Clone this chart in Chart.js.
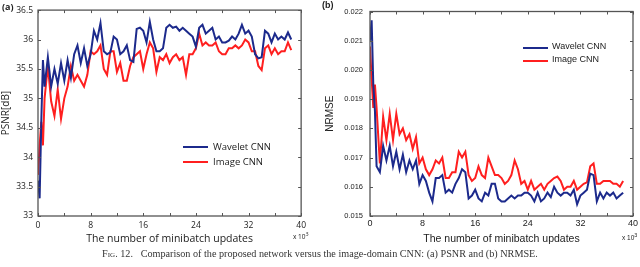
<!DOCTYPE html>
<html>
<head>
<meta charset="utf-8">
<script src="https://cdn.jsdelivr.net/npm/chart.js@4.4.1/dist/chart.umd.min.js"></script>
<style>
    body { margin: 0; background: #fff; }
    #wrap { position: relative; width: 640px; height: 267px; overflow: hidden; }
    canvas { position: absolute; top: 0; }
    .txt { position: absolute; white-space: nowrap; color: #222; }
    .leg { position: absolute; height: 2px; width: 25px; }
</style>
</head>
<body>
<div id="wrap">
    <canvas id="psnrChart" width="310" height="250" style="left:0"></canvas>
    <canvas id="nrmseChart" width="320" height="250" style="left:320px"></canvas>

    <div class="txt" style="left:2px;top:0px;font:bold 9px 'Open Sans';">(a)</div>
    <div class="txt" style="left:322px;top:0px;font:bold 9px 'Liberation Sans';">(b)</div>

    <div class="leg" style="left:183px;top:146px;background:#1c2a8c"></div>
    <div class="txt" style="left:213px;top:140px;font:9.5px 'Open Sans';">Wavelet CNN</div>
    <div class="leg" style="left:183px;top:161px;background:#ff1f1f"></div>
    <div class="txt" style="left:213px;top:155px;font:9.5px 'Open Sans';">Image CNN</div>

    <div class="leg" style="left:523px;top:47px;background:#1c2a8c"></div>
    <div class="txt" style="left:552px;top:41px;font:9px 'Liberation Sans';">Wavelet CNN</div>
    <div class="leg" style="left:523px;top:60px;background:#ff1f1f"></div>
    <div class="txt" style="left:552px;top:54px;font:9px 'Liberation Sans';">Image CNN</div>

    <div class="txt" style="left:293px;top:230px;font:6.5px 'Open Sans';">x 10<sup>3</sup></div>
    <div class="txt" style="left:622px;top:232px;font:6.5px 'Liberation Sans';">x 10<sup>3</sup></div>

    <div class="txt" style="left:0;width:640px;top:248px;text-align:center;font:10.2px 'Liberation Serif';color:#333;">
        <span style="font-variant:small-caps">Fig. 12.</span>&nbsp;&nbsp;&nbsp;Comparison of the proposed network versus the image-domain CNN: (a) PSNR and (b) NRMSE.
    </div>
</div>

<script>
// номер минибатча, x 10^3
const steps = [
    0, 0.25, 0.5, 0.75, 1, 1.5, 2, 2.5, 3, 3.5,
    4, 4.5, 5, 5.5, 6, 6.5, 7, 7.5, 8, 8.5,
    9, 9.5, 10, 10.5, 11, 11.5, 12, 12.5, 13, 13.5,
    14, 14.5, 15, 15.5, 16, 16.5, 17, 17.5, 18, 18.5,
    19, 19.5, 20, 20.5, 21, 21.5, 22, 22.5, 23, 23.5,
    24, 24.5, 25, 25.5, 26, 26.5, 27, 27.5, 28, 28.5,
    29, 29.5, 30, 30.5, 31, 31.5, 32, 32.5, 33, 33.5,
    34, 34.5, 35, 35.5, 36, 36.5, 37, 37.5, 38, 38.5
];

// PSNR
const waveletPsnr = [
    33.6, 33.3, 34.6, 35.65, 35.2, 35.7, 35.2, 35.5, 35.25, 35.6,
    35.3, 35.65, 35.35, 35.75, 35.9, 35.6, 35.85, 35.55, 35.75, 36.15,
    36.0, 36.28, 35.8, 35.75, 35.78, 36.05, 36.0, 35.75, 35.8, 35.9,
    35.65, 35.62, 36.18, 36.2, 36.15, 35.95, 36.3, 36.0, 35.8, 35.8,
    35.85, 36.2, 36.25, 36.2, 36.22, 36.15, 36.2, 36.15, 36.1, 36.05,
    35.88, 36.2, 36.25, 36.1, 36.15, 36.2, 36.0, 36.05, 35.95, 35.95,
    35.98, 36.05, 36.0, 36.1, 36.25, 36.1, 36.15, 36.05, 35.75, 35.68,
    35.7, 36.15, 36.1, 35.95, 36.1, 36.0, 36.05, 36.0, 36.12, 36.0
];
const imagePsnr = [
    33.7, 34.2, 34.6, 34.2, 35.0, 35.55, 34.95, 34.7, 35.15, 34.65,
    35.0, 35.2, 35.55, 35.3, 35.4, 35.3, 35.2, 35.4, 35.8, 35.75,
    35.8, 35.9, 35.5, 35.4, 35.8, 35.8, 35.45, 35.6, 35.3, 35.3,
    35.55, 35.7, 35.75, 35.8, 35.5, 35.75, 35.95, 35.85, 35.45, 35.7,
    35.65, 35.75, 35.6, 35.7, 35.75, 35.65, 35.7, 35.4, 35.75, 35.75,
    35.85, 36.1, 35.9, 35.95, 35.9, 35.9, 35.95, 35.8, 35.75, 35.75,
    35.85, 35.85, 35.9, 35.85, 35.9, 36.0, 35.95, 35.8, 35.8, 35.55,
    35.48, 35.85, 35.9, 35.75, 35.85, 35.75, 35.8, 35.8, 35.95, 35.82
];

// NRMSE
const waveletNrmse = [
    0.0210, 0.0217, 0.0195, 0.0186, 0.0167, 0.0165, 0.0174, 0.0169, 0.0174, 0.0167,
    0.0172, 0.0166, 0.0171, 0.0165, 0.0169, 0.0166, 0.0169, 0.0161, 0.0164, 0.0162,
    0.0158, 0.0155, 0.0163, 0.0163, 0.0164, 0.0158, 0.0159, 0.0158, 0.0161, 0.0163,
    0.0166, 0.0165, 0.0156, 0.0157, 0.0159, 0.0156, 0.0155, 0.0158, 0.0157, 0.0161,
    0.0161, 0.0156, 0.0155, 0.0155, 0.0156, 0.0157, 0.0156, 0.0157, 0.0157, 0.0158,
    0.0158, 0.0157, 0.0155, 0.0158, 0.0155, 0.0156, 0.0158, 0.01565, 0.0160, 0.0158,
    0.0157, 0.0158, 0.0158, 0.0157, 0.0159, 0.0154, 0.0157, 0.0158, 0.0159, 0.01645,
    0.0164, 0.0155, 0.0158, 0.0156, 0.0158, 0.0157, 0.0158, 0.0156, 0.0157, 0.0158
];
const imageNrmse = [
    0.0208, 0.0197, 0.0187, 0.0195, 0.0187, 0.0168, 0.0184, 0.0176, 0.0185, 0.0176,
    0.0185, 0.0178, 0.0180, 0.0176, 0.0178, 0.0173, 0.0177, 0.0168, 0.0170, 0.0166,
    0.0164, 0.0166, 0.0169, 0.0168, 0.0170, 0.0163, 0.0163, 0.0165, 0.0165, 0.0172,
    0.0170, 0.0172, 0.0164, 0.0162, 0.0163, 0.0167, 0.0164, 0.0163, 0.0170, 0.0167,
    0.0164, 0.0164, 0.0163, 0.0161, 0.0162, 0.0164, 0.0169, 0.0166, 0.0161, 0.0162,
    0.0159, 0.0162, 0.0159, 0.0160, 0.0161, 0.0159, 0.0161, 0.0162, 0.0163, 0.01635,
    0.0162, 0.0159, 0.0160, 0.0160, 0.0162, 0.0159, 0.0160, 0.0161, 0.01615, 0.0167,
    0.0168, 0.0161, 0.0161, 0.0162, 0.0162, 0.0162, 0.0161, 0.0161, 0.0160, 0.0162
];

const BLUE = '#1c2a8c';
const RED = '#ff1f1f';

function toPoints(ys) {
    return steps.map((x, i) => ({ x: x, y: ys[i] }));
}

// рамка и тики внутрь, как в matlab
const frameTicks = {
    id: 'frameTicks',
    afterDatasetsDraw(chart) {
        const { ctx, chartArea: a, scales: { x, y } } = chart;
        ctx.save();
        ctx.strokeStyle = '#555';
        ctx.lineWidth = 1.3;
        ctx.strokeRect(a.left, a.top, a.right - a.left, a.bottom - a.top);
        ctx.beginPath();
        ctx.lineWidth = 1;
        x.ticks.forEach(t => {
            const px = Math.round(x.getPixelForValue(t.value)) + 0.5;
            ctx.moveTo(px, a.bottom); ctx.lineTo(px, a.bottom - 3);
            ctx.moveTo(px, a.top); ctx.lineTo(px, a.top + 3);
        });
        y.ticks.forEach(t => {
            const py = Math.round(y.getPixelForValue(t.value)) + 0.5;
            ctx.moveTo(a.left, py); ctx.lineTo(a.left + 3, py);
            ctx.moveTo(a.right, py); ctx.lineTo(a.right - 3, py);
        });
        ctx.stroke();
        ctx.restore();
    }
};

function renderChart(id, cfg) {
    const ctx = document.getElementById(id).getContext('2d');
    new Chart(ctx, {
        type: 'line',
        data: {
            datasets: [{
                label: 'Wavelet CNN',
                data: toPoints(cfg.wavelet),
                borderColor: BLUE,
                borderWidth: 2,
                pointRadius: 0,
                tension: 0
            }, {
                label: 'Image CNN',
                data: toPoints(cfg.image),
                borderColor: RED,
                borderWidth: 2,
                pointRadius: 0,
                tension: 0
            }]
        },
        options: {
            responsive: false,
            animation: false,
            layout: {
                padding: { top: 5, right: cfg.padRight, left: 0, bottom: 0 }
            },
            plugins: {
                legend: { display: false },
                tooltip: { enabled: false }
            },
            scales: {
                x: {
                    type: 'linear',
                    min: 0,
                    max: 40,
                    grid: { display: false, drawTicks: false },
                    border: { display: false },
                    afterFit: s => { s.height = 34; },
                    ticks: {
                        stepSize: 4,
                        autoSkip: false,
                        maxRotation: 0,
                        padding: cfg.xTickPad,
                        color: '#222',
                        font: { family: cfg.font, size: cfg.xTickSize },
                        callback: v => (v % 8 === 0 ? String(v) : '')
                    },
                    title: {
                        display: true,
                        text: 'The number of minibatch updates',
                        color: '#222',
                        padding: { top: 0, bottom: 5 },
                        font: { family: cfg.font, size: 10.5 }
                    }
                },
                y: {
                    min: cfg.yMin,
                    max: cfg.yMax,
                    grid: { display: false, drawTicks: false },
                    border: { display: false },
                    afterFit: s => { s.width = cfg.yWidth; },
                    ticks: {
                        stepSize: cfg.yStep,
                        padding: cfg.yTickPad,
                        color: '#222',
                        font: { family: cfg.font, size: cfg.yTickSize },
                        callback: v => v.toFixed(cfg.decimals).replace(/\.0$/, '')
                    },
                    title: {
                        display: true,
                        text: cfg.yTitle,
                        color: '#222',
                        padding: cfg.yTitlePad,
                        font: { family: cfg.font, size: 10 }
                    }
                }
            }
        },
        plugins: [frameTicks]
    });
}

renderChart('psnrChart', {
    wavelet: waveletPsnr,
    image: imagePsnr,
    yMin: 33, yMax: 36.5, yStep: 0.5, decimals: 1,
    yTitle: 'PSNR[dB]', yTitlePad: 0,
    yWidth: 38, padRight: 5,
    yTickPad: 5, xTickPad: 4,
    xTickSize: 8.5, yTickSize: 8.5,
    font: 'Open Sans'
});

renderChart('nrmseChart', {
    wavelet: waveletNrmse,
    image: imageNrmse,
    yMin: 0.015, yMax: 0.022, yStep: 0.001, decimals: 3,
    yTitle: 'NRMSE', yTitlePad: 4,
    yWidth: 50, padRight: 4.5,
    yTickPad: 7, xTickPad: 2,
    xTickSize: 9, yTickSize: 7.5,
    font: 'Liberation Sans'
});
</script>
</body>
</html>
